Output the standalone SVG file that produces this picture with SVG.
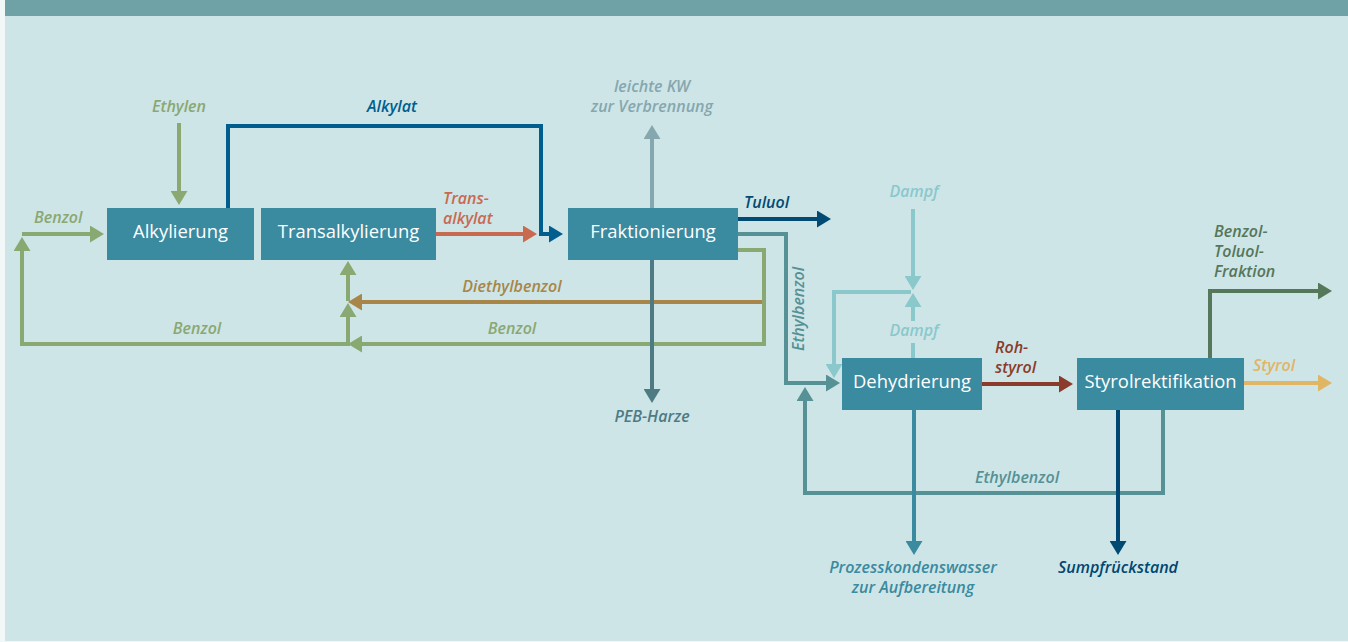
<svg xmlns="http://www.w3.org/2000/svg" width="1348" height="642" viewBox="0 0 1348 642">
<style>
.box{fill:#3a8aa0}
.bt{font-family:"Open Sans","Noto Sans",sans-serif;font-size:18.4px;font-weight:500;fill:#ffffff;text-anchor:middle}
.lb{font-family:"Open Sans","Noto Sans",sans-serif;font-size:16px;font-weight:600;font-style:italic}
.c{text-anchor:middle}
.ln{fill:none;stroke-width:4;stroke-linejoin:miter;stroke-linecap:butt}
</style>
<defs>
<marker id="aGreen" viewBox="0 0 14 17" refX="0" refY="8.5" markerWidth="14" markerHeight="17" markerUnits="userSpaceOnUse" orient="auto"><path d="M0,0L14,8.5L0,17z" fill="#8aa872"/></marker>
<marker id="aBrown" viewBox="0 0 14 17" refX="0" refY="8.5" markerWidth="14" markerHeight="17" markerUnits="userSpaceOnUse" orient="auto"><path d="M0,0L14,8.5L0,17z" fill="#a8864a"/></marker>
<marker id="aBlue" viewBox="0 0 14 17" refX="0" refY="8.5" markerWidth="14" markerHeight="17" markerUnits="userSpaceOnUse" orient="auto"><path d="M0,0L14,8.5L0,17z" fill="#005e8e"/></marker>
<marker id="aRed" viewBox="0 0 14 17" refX="0" refY="8.5" markerWidth="14" markerHeight="17" markerUnits="userSpaceOnUse" orient="auto"><path d="M0,0L14,8.5L0,17z" fill="#c86a50"/></marker>
<marker id="aGray" viewBox="0 0 14 17" refX="0" refY="8.5" markerWidth="14" markerHeight="17" markerUnits="userSpaceOnUse" orient="auto"><path d="M0,0L14,8.5L0,17z" fill="#85a7af"/></marker>
<marker id="aPeb" viewBox="0 0 14 17" refX="0" refY="8.5" markerWidth="14" markerHeight="17" markerUnits="userSpaceOnUse" orient="auto"><path d="M0,0L14,8.5L0,17z" fill="#4e7a84"/></marker>
<marker id="aNavy" viewBox="0 0 14 17" refX="0" refY="8.5" markerWidth="14" markerHeight="17" markerUnits="userSpaceOnUse" orient="auto"><path d="M0,0L14,8.5L0,17z" fill="#004b73"/></marker>
<marker id="aTeal" viewBox="0 0 14 17" refX="0" refY="8.5" markerWidth="14" markerHeight="17" markerUnits="userSpaceOnUse" orient="auto"><path d="M0,0L14,8.5L0,17z" fill="#559195"/></marker>
<marker id="aSteam" viewBox="0 0 14 17" refX="0" refY="8.5" markerWidth="14" markerHeight="17" markerUnits="userSpaceOnUse" orient="auto"><path d="M0,0L14,8.5L0,17z" fill="#8ac8cc"/></marker>
<marker id="aRoh" viewBox="0 0 14 17" refX="0" refY="8.5" markerWidth="14" markerHeight="17" markerUnits="userSpaceOnUse" orient="auto"><path d="M0,0L14,8.5L0,17z" fill="#8b3b2b"/></marker>
<marker id="aProz" viewBox="0 0 14 17" refX="0" refY="8.5" markerWidth="14" markerHeight="17" markerUnits="userSpaceOnUse" orient="auto"><path d="M0,0L14,8.5L0,17z" fill="#3a8aa0"/></marker>
<marker id="aBtf" viewBox="0 0 14 17" refX="0" refY="8.5" markerWidth="14" markerHeight="17" markerUnits="userSpaceOnUse" orient="auto"><path d="M0,0L14,8.5L0,17z" fill="#55775a"/></marker>
<marker id="aGold" viewBox="0 0 14 17" refX="0" refY="8.5" markerWidth="14" markerHeight="17" markerUnits="userSpaceOnUse" orient="auto"><path d="M0,0L14,8.5L0,17z" fill="#e0b564"/></marker>
</defs>
<rect x="0" y="0" width="1348" height="642" fill="#f2f8f8"/>
<rect x="5" y="0" width="1343" height="641" fill="#cee5e7"/>
<rect x="5" y="0" width="1343" height="16" fill="#6fa2a6"/>

<g id="connectors">
<path class="ln" stroke="#8aa872" d="M179,123V191" marker-end="url(#aGreen)"/>
<path class="ln" stroke="#8aa872" d="M22,234H90" marker-end="url(#aGreen)"/>
<path class="ln" stroke="#8aa872" d="M350,344H22V251" marker-end="url(#aGreen)"/>
<path class="ln" stroke="#8aa872" d="M738,250H764V344H362" marker-end="url(#aGreen)"/>
<path class="ln" stroke="#8aa872" d="M348,344V317" marker-end="url(#aGreen)"/>
<path class="ln" stroke="#8aa872" d="M348,301V275" marker-end="url(#aGreen)"/>
<path class="ln" stroke="#a8864a" d="M762,302H362" marker-end="url(#aBrown)"/>
<path class="ln" stroke="#005e8e" d="M228,208V126H541V234H549" marker-end="url(#aBlue)"/>
<path class="ln" stroke="#c86a50" d="M436,234H523" marker-end="url(#aRed)"/>
<path class="ln" stroke="#85a7af" d="M652,208V139" marker-end="url(#aGray)"/>
<path class="ln" stroke="#4e7a84" d="M652,260V389" marker-end="url(#aPeb)"/>
<path class="ln" stroke="#004b73" d="M738,219H817" marker-end="url(#aNavy)"/>
<path class="ln" stroke="#559195" d="M738,234H786V383H826" marker-end="url(#aTeal)"/>
<path class="ln" stroke="#559195" d="M1163,410V493H805V401" marker-end="url(#aTeal)"/>
<path class="ln" stroke="#8ac8cc" d="M913,209V276" marker-end="url(#aSteam)"/>
<path class="ln" stroke="#8ac8cc" d="M913,321V307" marker-end="url(#aSteam)"/>
<path class="ln" stroke="#8ac8cc" d="M913,358V343"/>
<path class="ln" stroke="#8ac8cc" d="M911,292H834V364" marker-end="url(#aSteam)"/>
<path class="ln" stroke="#8b3b2b" d="M982,384H1059" marker-end="url(#aRoh)"/>
<path class="ln" stroke="#3a8aa0" d="M914,410V541" marker-end="url(#aProz)"/>
<path class="ln" stroke="#004670" d="M1118,410V541" marker-end="url(#aNavy)"/>
<path class="ln" stroke="#55775a" d="M1210,358V291H1318" marker-end="url(#aBtf)"/>
<path class="ln" stroke="#e0b564" d="M1244,383H1318" marker-end="url(#aGold)"/>
</g>

<g id="labels">
<text class="lb c" x="179" y="112" fill="#8aa872">Ethylen</text>
<text class="lb" x="34" y="223" fill="#8aa872">Benzol</text>
<text class="lb c" x="197" y="334" fill="#8aa872">Benzol</text>
<text class="lb c" x="512" y="334" fill="#8aa872">Benzol</text>
<text class="lb c" x="512" y="292" fill="#a8864a">Diethylbenzol</text>
<text class="lb c" x="392" y="112" fill="#005e8e">Alkylat</text>
<text class="lb" x="443" y="204" fill="#c86a50">Trans-</text>
<text class="lb" x="443" y="224" fill="#c86a50">alkylat</text>
<text class="lb c" x="652" y="92" fill="#85a7af">leichte KW</text>
<text class="lb c" x="652" y="112" fill="#85a7af">zur Verbrennung</text>
<text class="lb c" x="652" y="422" fill="#4e7a84">PEB-Harze</text>
<text class="lb" x="744" y="208" fill="#004b73">Tuluol</text>
<text class="lb c" transform="translate(804,309) rotate(-90)" fill="#559195">Ethylbenzol</text>
<text class="lb c" x="914" y="197" fill="#8ac8cc">Dampf</text>
<text class="lb c" x="914" y="336" fill="#8ac8cc">Dampf</text>
<text class="lb" x="995" y="353" fill="#8b3b2b">Roh-</text>
<text class="lb" x="995" y="373" fill="#8b3b2b">styrol</text>
<text class="lb" x="1253" y="371" fill="#e0b564">Styrol</text>
<text class="lb" x="1214" y="237" fill="#55775a">Benzol-</text>
<text class="lb" x="1214" y="257" fill="#55775a">Toluol-</text>
<text class="lb" x="1214" y="277" fill="#55775a">Fraktion</text>
<text class="lb c" x="1017" y="483" fill="#559195">Ethylbenzol</text>
<text class="lb c" x="913" y="573" fill="#3a8aa0">Prozesskondenswasser</text>
<text class="lb c" x="913" y="593" fill="#3a8aa0">zur Aufbereitung</text>
<text class="lb c" x="1118" y="573" fill="#004670">Sumpfrückstand</text>
</g>

<g id="alkylierung"><rect class="box" x="107" y="208" width="147" height="52"/><text class="bt" x="180.5" y="238">Alkylierung</text></g>
<g id="transalkylierung"><rect class="box" x="261" y="208" width="175" height="52"/><text class="bt" x="348.5" y="238">Transalkylierung</text></g>
<g id="fraktionierung"><rect class="box" x="568" y="208" width="170" height="52"/><text class="bt" x="653" y="238">Fraktionierung</text></g>
<g id="dehydrierung"><rect class="box" x="842" y="358" width="140" height="52"/><text class="bt" x="912" y="388">Dehydrierung</text></g>
<g id="styrolrektifikation"><rect class="box" x="1077" y="358" width="167" height="52"/><text class="bt" x="1160.5" y="388">Styrolrektifikation</text></g>
</svg>
